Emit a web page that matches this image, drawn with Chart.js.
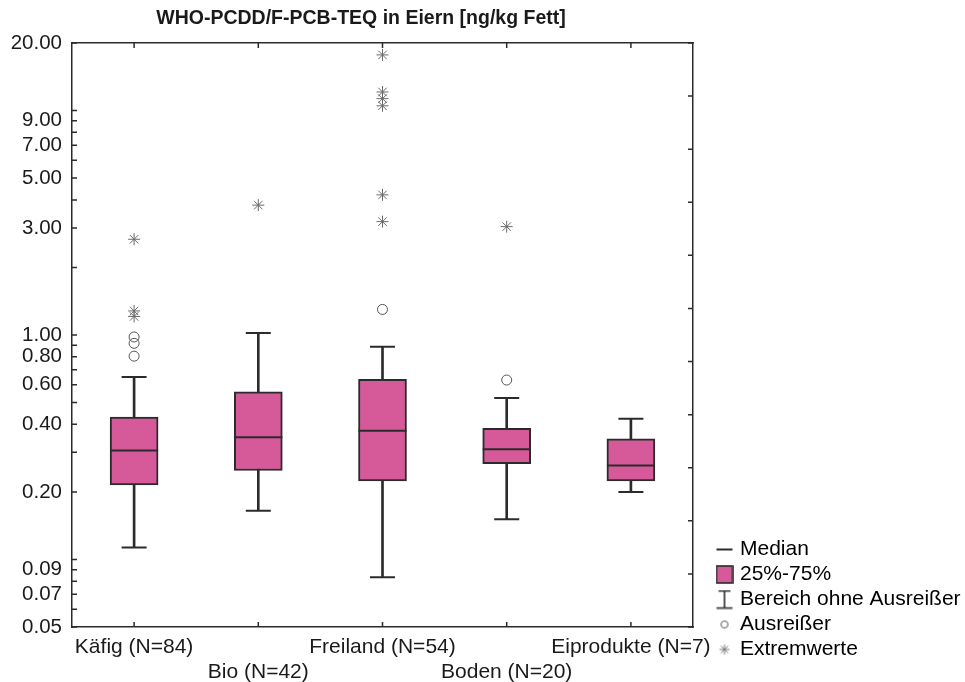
<!DOCTYPE html>
<html>
<head>
<meta charset="utf-8">
<script src="https://cdn.jsdelivr.net/npm/chart.js@4.4.0/dist/chart.umd.min.js"></script>
<style>
html,body{margin:0;padding:0;background:#fff;overflow:hidden;}
#wrap{width:965px;height:682px;}
</style>
</head>
<body>
<div id="wrap"><canvas id="c" width="965" height="682"></canvas></div>
<script>
// ---- data ----
const chartTitle = 'WHO-PCDD/F-PCB-TEQ in Eiern [ng/kg Fett]';
const categories = ['Käfig (N=84)', 'Bio (N=42)', 'Freiland (N=54)', 'Boden (N=20)', 'Eiprodukte (N=7)'];
const whiskerLow  = [0.113, 0.165, 0.0834, 0.151, 0.1995];
const q1          = [0.215, 0.249, 0.224, 0.267, 0.224];
const median      = [0.306, 0.350, 0.374, 0.310, 0.262];
const q3          = [0.431, 0.558, 0.634, 0.384, 0.345];
const whiskerHigh = [0.650, 1.020, 0.887, 0.524, 0.424];
const outlierCat  = ['Käfig (N=84)', 'Käfig (N=84)', 'Käfig (N=84)', 'Freiland (N=54)', 'Boden (N=20)'];
const outlierVal  = [0.98, 0.918, 0.805, 1.30, 0.63];
const extremeCat  = ['Käfig (N=84)', 'Käfig (N=84)', 'Käfig (N=84)', 'Bio (N=42)',
                     'Freiland (N=54)', 'Freiland (N=54)', 'Freiland (N=54)', 'Freiland (N=54)', 'Freiland (N=54)', 'Freiland (N=54)',
                     'Boden (N=20)'];
const extremeVal  = [2.67, 1.28, 1.21, 3.79, 17.7, 12.1, 11.3, 10.5, 4.21, 3.2, 3.04];
const yTickValues = [0.05, 0.06, 0.07, 0.08, 0.09, 0.1, 0.2, 0.3, 0.4, 0.5, 0.6, 0.7, 0.8, 0.9, 1, 2, 3, 4, 5, 6, 7, 8, 9, 10, 20];
const yLabelValues = [20, 9, 7, 5, 3, 1, 0.8, 0.6, 0.4, 0.2, 0.09, 0.07, 0.05];
const legendTexts = ['Median', '25%-75%', 'Bereich ohne Ausreißer', 'Ausreißer', 'Extremwerte'];

// ---- styles ----
const PINK = '#d65a9a';
const DARK = '#2b2b2b';
const GREY = '#555555';
const FONT = '"Liberation Sans", Arial, Helvetica, sans-serif';
Chart.defaults.font.family = FONT;
Chart.defaults.color = '#1a1a1a';

function pairs(cats, vals) { return vals.map((v, i) => ({x: cats[i], y: v})); }

function icon(w, h, draw) {
  const c = document.createElement('canvas');
  c.width = w; c.height = h;
  draw(c.getContext('2d'));
  return c;
}
const legendIcons = [
  icon(18, 4, g => { g.strokeStyle = DARK; g.lineWidth = 2; g.beginPath(); g.moveTo(1, 2); g.lineTo(17, 2); g.stroke(); }),
  icon(18, 19, g => { g.fillStyle = PINK; g.fillRect(1, 1, 16, 17); g.strokeStyle = DARK; g.lineWidth = 1.6; g.strokeRect(1, 1, 16, 17); }),
  icon(18, 20, g => { g.strokeStyle = DARK; g.lineWidth = 1.6; g.beginPath();
    g.moveTo(3, 1.5); g.lineTo(15, 1.5); g.moveTo(9, 1.5); g.lineTo(9, 18.5); g.moveTo(1, 18.5); g.lineTo(17, 18.5); g.stroke(); }),
  icon(10, 10, g => { g.strokeStyle = GREY; g.lineWidth = 1; g.beginPath(); g.arc(5, 5, 3.5, 0, Math.PI * 2); g.stroke(); }),
  icon(12, 12, g => { g.strokeStyle = '#777'; g.lineWidth = 1; g.beginPath();
    g.moveTo(6, 1); g.lineTo(6, 11); g.moveTo(1, 6); g.lineTo(11, 6);
    g.moveTo(2.5, 2.5); g.lineTo(9.5, 9.5); g.moveTo(9.5, 2.5); g.lineTo(2.5, 9.5); g.stroke(); })
];

const titlePlugin = {
  id: 'titleText',
  afterDraw(chart) {
    const ctx = chart.ctx;
    ctx.save();
    ctx.font = 'bold 19.5px ' + FONT;
    ctx.fillStyle = '#1a1a1a';
    ctx.textAlign = 'center';
    ctx.textBaseline = 'middle';
    ctx.fillText(chartTitle, 361, 19);
    ctx.restore();
  }
};

// let the category labels below the plot use the full height down to the canvas edge
const labelRoom = {
  id: 'labelRoom',
  afterLayout(chart) {
    ['x', 'x3'].forEach(id => { chart.scales[id].bottom = chart.height; });
  }
};

const inwardTicks = {
  id: 'inwardTicks',
  afterDatasetsDraw(chart) {
    const {ctx, chartArea: a, scales} = chart;
    ctx.save();
    ctx.strokeStyle = DARK;
    ctx.lineWidth = 1.5;
    ctx.beginPath();
    scales.x.ticks.forEach((t, i) => { const p = scales.x.getPixelForTick(i); ctx.moveTo(p, a.bottom); ctx.lineTo(p, a.bottom - 5); });
    scales.x2.ticks.forEach((t, i) => { const p = scales.x2.getPixelForTick(i); ctx.moveTo(p, a.top); ctx.lineTo(p, a.top + 5); });
    scales.y.ticks.forEach((t, i) => { const p = scales.y.getPixelForTick(i); ctx.moveTo(a.left, p); ctx.lineTo(a.left + 5, p); });
    scales.y2.ticks.forEach((t, i) => { const p = scales.y2.getPixelForTick(i); ctx.moveTo(a.right, p); ctx.lineTo(a.right - 5, p); });
    ctx.stroke();
    ctx.restore();
  }
};

const noGrid = { display: false, drawTicks: false };
const axisBorder = { display: true, color: DARK, width: 1.5 };

new Chart(document.getElementById('c'), {
  type: 'bar',
  data: {
    labels: categories,
    datasets: [
      { label: 'whisker', type: 'bar', data: whiskerLow.map((v, i) => [v, whiskerHigh[i]]),
        backgroundColor: DARK, borderWidth: 0, barThickness: 2, grouped: false, order: 6 },
      { label: 'box', type: 'bar', data: q1.map((v, i) => [v, q3[i]]),
        backgroundColor: PINK, borderColor: DARK, borderWidth: 2, borderSkipped: false,
        barThickness: 48, grouped: false, order: 5 },
      { label: 'median', type: 'line', data: pairs(categories, median), showLine: false,
        pointStyle: 'line', pointRadius: 24, pointHoverRadius: 24, pointBorderWidth: 2, pointBorderColor: DARK, order: 4 },
      { label: 'capLow', type: 'line', data: pairs(categories, whiskerLow), showLine: false,
        pointStyle: 'line', pointRadius: 12.5, pointHoverRadius: 12.5, pointBorderWidth: 2, pointBorderColor: DARK, order: 3 },
      { label: 'capHigh', type: 'line', data: pairs(categories, whiskerHigh), showLine: false,
        pointStyle: 'line', pointRadius: 12.5, pointHoverRadius: 12.5, pointBorderWidth: 2, pointBorderColor: DARK, order: 3 },
      { label: 'outliers', type: 'line', data: pairs(outlierCat, outlierVal), showLine: false,
        pointStyle: 'circle', pointRadius: 5, pointBorderWidth: 1, pointBorderColor: GREY, pointBackgroundColor: 'rgba(255,255,255,0)', order: 2 },
      { label: 'extremes', type: 'line', data: pairs(extremeCat, extremeVal), showLine: false,
        pointStyle: 'star', pointRadius: 6, pointBorderWidth: 1, pointBorderColor: '#6a6a6a', order: 1 }
    ]
  },
  options: {
    responsive: false,
    animation: false,
    events: [],
    layout: { padding: { top: 43, right: 0, bottom: 18, left: 0 } },
    plugins: {
      title: { display: false },
      tooltip: { enabled: false },
      legend: {
        display: true,
        position: 'right',
        align: 'end',
        maxWidth: 249.5,
        labels: {
          usePointStyle: true,
          boxWidth: 10,
          padding: 4,
          color: '#1a1a1a',
          font: { size: 21, family: FONT },
          generateLabels: () => legendTexts.map((t, i) => ({
            text: t, pointStyle: legendIcons[i], fillStyle: '#fff', strokeStyle: '#fff',
            lineWidth: 0, hidden: false, datasetIndex: 0
          }))
        }
      }
    },
    scales: {
      x: {
        type: 'category', position: 'bottom', offset: true, weight: 0,
        grid: noGrid,
        border: axisBorder,
        ticks: {
          font: { size: 21, lineHeight: 1.2 }, color: '#1a1a1a', padding: 7.4,
          maxRotation: 0, minRotation: 0, autoSkip: false,
          callback: function (value, index) { return index % 2 ? '' : this.getLabelForValue(value); }
        },
        afterFit: s => { s.height = 25; }
      },
      x3: {
        type: 'category', position: 'bottom', offset: true, weight: 1,
        grid: noGrid,
        border: { display: false },
        ticks: {
          font: { size: 21, lineHeight: 1.2 }, color: '#1a1a1a', padding: 7.4,
          maxRotation: 0, minRotation: 0, autoSkip: false,
          callback: function (value, index) { return index % 2 ? this.getLabelForValue(value) : ''; }
        },
        afterFit: s => { s.height = 12; }
      },
      x2: {
        type: 'category', position: 'top', offset: true,
        grid: noGrid,
        border: axisBorder,
        ticks: { display: false },
        afterFit: s => { s.height = 0; }
      },
      y: {
        type: 'logarithmic', position: 'left', min: 0.05, max: 20,
        grid: noGrid,
        border: axisBorder,
        afterBuildTicks: s => { s.ticks = yTickValues.map(v => ({ value: v })); },
        ticks: {
          font: { size: 20.5 }, color: '#1a1a1a', padding: 10, autoSkip: false,
          callback: v => yLabelValues.includes(v) ? Number(v).toFixed(2) : ''
        },
        afterFit: s => { s.width = 72; }
      },
      y2: {
        type: 'linear', position: 'right', min: 0, max: 11,
        grid: noGrid,
        border: axisBorder,
        ticks: { display: false, stepSize: 1 },
        afterFit: s => { s.width = 22.5; }
      }
    }
  },
  plugins: [labelRoom, inwardTicks, titlePlugin]
});
</script>
</body>
</html>
